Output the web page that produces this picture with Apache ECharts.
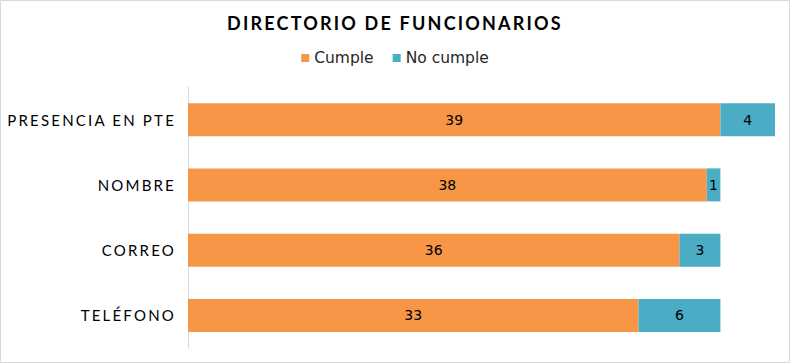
<!DOCTYPE html>
<html>
<head>
<meta charset="utf-8">
<script src="https://cdn.jsdelivr.net/npm/echarts@6/dist/echarts.min.js"></script>
<style>
html,body{margin:0;padding:0;background:#fff;}
#c{width:790px;height:363px;}
</style>
</head>
<body>
<div id="c"></div>
<script>
const titleText = 'DIRECTORIO DE FUNCIONARIOS';
const categories = ['PRESENCIA EN PTE', 'NOMBRE', 'CORREO', 'TELÉFONO'];
const cumple = [39, 38, 36, 33];
const noCumple = [4, 1, 3, 6];
const seriesNames = ['Cumple', 'No cumple'];

const FONT = 'Lato';
const chart = echarts.init(document.getElementById('c'), null, {renderer: 'svg'});
chart.setOption({
  animation: false,
  color: ['#F79646', '#4BACC6'],
  title: {
    text: titleText,
    left: 'center',
    top: 9,
    textStyle: {fontFamily: FONT, fontSize: 18, fontWeight: 'bold', color: '#000'}
  },
  legend: {
    top: 45,
    left: 'center',
    itemWidth: 8,
    itemHeight: 8,
    itemGap: 19,
    icon: 'rect',
    textStyle: {fontFamily: 'DejaVu Sans', fontSize: 15.5, color: '#262626'},
    data: seriesNames
  },
  graphic: [{
    type: 'rect',
    shape: {x: 0.5, y: 0.5, width: 789, height: 362},
    style: {fill: 'none', stroke: '#d9d9d9', lineWidth: 1},
    silent: true
  }],
  grid: {left: 188, right: 15, top: 87, bottom: 15, containLabel: false},
  xAxis: {type: 'value', min: 0, max: 43, show: false},
  yAxis: {
    type: 'category',
    inverse: true,
    data: categories,
    axisLine: {show: true, lineStyle: {color: '#d9d9d9'}},
    axisTick: {show: false},
    axisLabel: {fontFamily: FONT, fontSize: 15, color: '#000', margin: 12}
  },
  series: [
    {
      name: seriesNames[0], type: 'bar', stack: 's', data: cumple, barWidth: 33,
      label: {show: true, position: 'inside', fontFamily: 'DejaVu Sans', fontSize: 14, color: '#000'}
    },
    {
      name: seriesNames[1], type: 'bar', stack: 's', data: noCumple, barWidth: 33,
      label: {show: true, position: 'inside', fontFamily: 'DejaVu Sans', fontSize: 14, color: '#000'}
    }
  ]
});
function spacing(){
  document.querySelectorAll('#c text').forEach(t => {
    const s = t.textContent;
    if (s === titleText) t.setAttribute('letter-spacing', '2.2');
    else if (categories.indexOf(s) >= 0) { t.setAttribute('letter-spacing', '2.2'); }
  });
}
spacing();
chart.on('finished', spacing);
</script>
</body>
</html>
